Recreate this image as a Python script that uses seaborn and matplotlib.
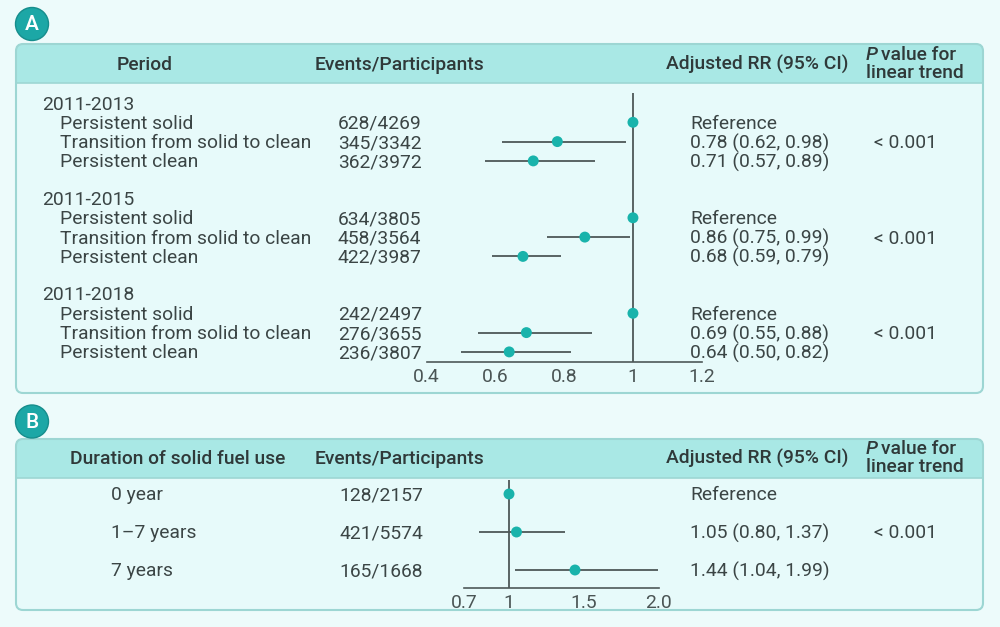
import numpy as np
import pandas as pd
import seaborn as sns
import matplotlib.pyplot as plt
from matplotlib.patches import FancyBboxPatch, Rectangle, Circle

# ---- data ----
periods = ['2011-2013', '2011-2015', '2011-2018']
exposures = ['Persistent solid', 'Transition from solid to clean', 'Persistent clean']
events_A = ['628/4269', '345/3342', '362/3972',
            '634/3805', '458/3564', '422/3987',
            '242/2497', '276/3655', '236/3807']
rr_A = [1.00, 0.78, 0.71, 1.00, 0.86, 0.68, 1.00, 0.69, 0.64]
lo_A = [np.nan, 0.62, 0.57, np.nan, 0.75, 0.59, np.nan, 0.55, 0.50]
hi_A = [np.nan, 0.98, 0.89, np.nan, 0.99, 0.79, np.nan, 0.88, 0.82]
p_A = ['< 0.001', '< 0.001', '< 0.001']
ticks_A = [0.4, 0.6, 0.8, 1, 1.2]
ticklabels_A = ['0.4', '0.6', '0.8', '1', '1.2']

durations = ['0 year', '1\u20137 years', '7 years']
events_B = ['128/2157', '421/5574', '165/1668']
rr_B = [1.00, 1.05, 1.44]
lo_B = [np.nan, 0.80, 1.04]
hi_B = [np.nan, 1.37, 1.99]
p_B = '< 0.001'
ticks_B = [0.7, 1, 1.5, 2.0]
ticklabels_B = ['0.7', '1', '1.5', '2.0']

# ---- style ----
sns.set_theme(style='white')
plt.rcParams['font.family'] = ['Roboto', 'DejaVu Sans']

BG = '#edfbfb'
BODY = '#e7fafa'
HEAD = '#a9e8e5'
BORDER = '#9dd6d3'
BADGE = '#1ca7a6'
DOT = '#19b3ab'
LINE = '#4e5858'
TXT = '#3b4545'
HTXT = '#2f3939'
FS = 13.9
DY = 1.5  # text sits a little low vs. 'center' bbox

W, H = 1000, 627
fig = plt.figure(figsize=(10, 6.27), dpi=100, facecolor=BG)
bg = fig.add_axes([0, 0, 1, 1])
bg.set_xlim(0, W)
bg.set_ylim(H, 0)
bg.axis('off')
bg.set_facecolor(BG)


def pix_axes(x0, x1, y0, y1):
    return fig.add_axes([x0 / W, 1 - y1 / H, (x1 - x0) / W, (y1 - y0) / H])


def txt(x, y, s, **kw):
    opts = dict(fontsize=FS, color=TXT, va='center', zorder=5)
    opts.update(kw)
    bg.text(x, y + DY, s, **opts)


def panel(y0, y1, yh, letter, cy):
    bg.add_patch(FancyBboxPatch((16, y0), 967, y1 - y0,
                                boxstyle='round,pad=0,rounding_size=7',
                                fc=BODY, ec='none', zorder=1))
    bg.add_patch(FancyBboxPatch((16, y0), 967, yh - y0,
                                boxstyle='round,pad=0,rounding_size=7',
                                fc=HEAD, ec='none', zorder=2))
    bg.add_patch(Rectangle((16, yh - 12), 967, 12, fc=HEAD, ec='none', zorder=2))
    bg.plot([16, 983], [yh, yh], color=BORDER, lw=1.2, zorder=3)
    bg.add_patch(FancyBboxPatch((16, y0), 967, y1 - y0,
                                boxstyle='round,pad=0,rounding_size=7',
                                fc='none', ec=BORDER, lw=1.5, zorder=4))
    bg.add_patch(Circle((32, cy), 16.5, fc=BADGE, ec='#168d8c', lw=1, zorder=4))
    bg.text(32, cy + 1, letter, color='white', fontsize=15, ha='center',
            va='center', fontweight='medium', zorder=5)


def header(yc, first_col, first_x):
    kw = dict(color=HTXT, fontweight='medium')
    txt(first_x, yc, first_col, ha='center', **kw)
    txt(399, yc, 'Events/Participants', ha='center', **kw)
    txt(757, yc, 'Adjusted RR (95% CI)', ha='center', **kw)
    txt(866, yc - 10, 'P', ha='left', style='italic', **kw)
    txt(881, yc - 10, 'value for', ha='left', **kw)
    txt(866, yc + 9, 'linear trend', ha='left', **kw)


def rr_text(r, lo, hi):
    if np.isnan(lo):
        return 'Reference'
    return f'{r:.2f} ({lo:.2f}, {hi:.2f})'


def style_forest(ax, ticks, labels):
    ax.patch.set_alpha(0)
    for s in ['left', 'right', 'top']:
        ax.spines[s].set_visible(False)
    ax.spines['bottom'].set_color(LINE)
    ax.spines['bottom'].set_linewidth(1.2)
    ax.set_xticks(ticks)
    ax.set_xticklabels(labels)
    ax.tick_params(axis='x', direction='in', length=3, width=1, color=LINE,
                   labelsize=FS, labelcolor='#4a5454', pad=4)
    ax.set_yticks([])
    ax.set_xlabel('')
    ax.set_ylabel('')
    ax.axvline(1, color=LINE, lw=1.3, zorder=1)


# ---- panel A ----
panel(44, 393, 83, 'A', 24)
header(63, 'Period', 145)

row_y_A = []
for g, per in enumerate(periods):
    gy = 103 + g * 95.5
    txt(42, gy, per)
    for i, ex in enumerate(exposures):
        k = g * 3 + i
        y = gy + 19.3 * (i + 1)
        row_y_A.append(y)
        txt(60, y, ex)
        txt(338, y, events_A[k])
        txt(690, y, rr_text(rr_A[k], lo_A[k], hi_A[k]))
    txt(905, gy + 19.3 * 2, p_A[g], ha='center')

dfA = pd.DataFrame({'rr': rr_A, 'lo': lo_A, 'hi': hi_A, 'y': row_y_A})
axA = pix_axes(426.7, 701.7, 93, 362)
axA.hlines(dfA['y'], dfA['lo'], dfA['hi'], color=LINE, lw=1.3, zorder=2)
sns.scatterplot(data=dfA, x='rr', y='y', ax=axA, color=DOT, s=62,
                edgecolor='none', zorder=3, legend=False)
axA.set_xlim(0.4, 1.2)
axA.set_ylim(362, 93)
style_forest(axA, ticks_A, ticklabels_A)

# ---- panel B ----
panel(439, 610, 477.5, 'B', 421.5)
header(457, 'Duration of solid fuel use', 178)

row_y_B = [494 + 38 * i for i in range(len(durations))]
for i, d in enumerate(durations):
    y = row_y_B[i]
    txt(111, y, d)
    txt(339, y, events_B[i])
    txt(690, y, rr_text(rr_B[i], lo_B[i], hi_B[i]))
txt(905, row_y_B[1], p_B, ha='center')

dfB = pd.DataFrame({'rr': rr_B, 'lo': lo_B, 'hi': hi_B, 'y': row_y_B})
axB = pix_axes(464, 659, 480, 588)
axB.hlines(dfB['y'], dfB['lo'], dfB['hi'], color=LINE, lw=1.3, zorder=2)
sns.scatterplot(data=dfB, x='rr', y='y', ax=axB, color=DOT, s=62,
                edgecolor='none', zorder=3, legend=False)
axB.set_xlim(0.7, 2.0)
axB.set_ylim(588, 480)
style_forest(axB, ticks_B, ticklabels_B)

fig.savefig('out.png', dpi=100, facecolor=BG)
